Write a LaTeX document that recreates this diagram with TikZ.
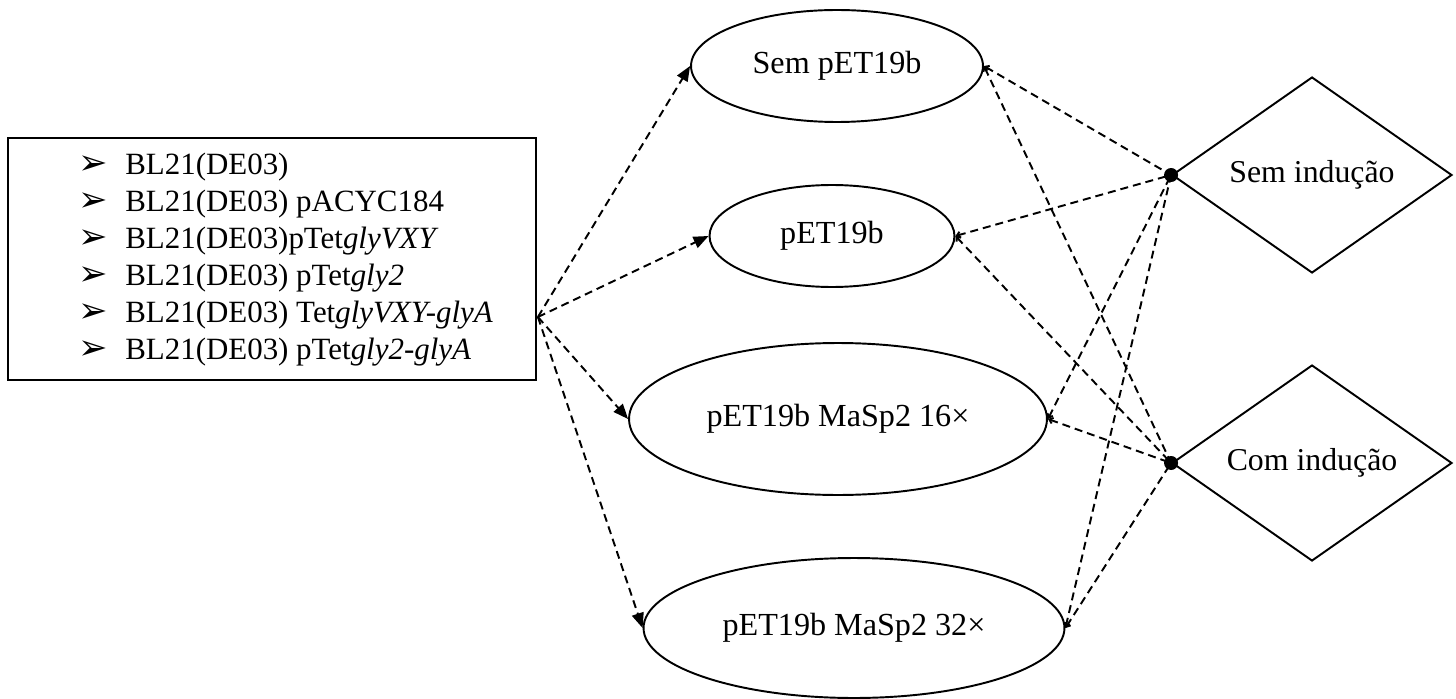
\documentclass[tikz,border=0pt]{standalone}
\usepackage{fontspec}
\setmainfont{Liberation Serif}
\newfontfamily\symfont{DejaVu Sans}
\usepackage{tikz}
\usetikzlibrary{shapes.geometric, arrows.meta, positioning, calc}

\newcommand{\itembul}{\makebox[0.94cm][l]{\symfont\fontsize{20}{20}\selectfont ➢}}

\begin{document}
\begin{tikzpicture}[
    x=0.02cm, y=-0.02cm,
    font=\fontsize{17.6}{21}\selectfont,
    >=Triangle,
    listbox/.style={draw, line width=1.1pt, minimum width=10.56cm, minimum height=4.84cm, inner sep=0pt},
    plasmid/.style={draw, ellipse, line width=1.1pt, inner sep=0pt, font=\fontsize{18.3}{22}\selectfont},
    cond/.style={draw, diamond, aspect=1.43, line width=1.1pt, inner sep=0pt, minimum width=5.6cm, minimum height=3.92cm, font=\fontsize{18.1}{22}\selectfont},
    dot/.style={circle, fill=black, inner sep=0pt, minimum size=0.28cm},
    link/.style={line width=1.1pt, dash pattern=on 0.16cm off 0.1cm},
]
\useasboundingbox (0,0) rectangle (1456,699);

% ── Strain list ──
\node[listbox] (box) at (272,259) {};
\node[anchor=west, align=left, inner sep=0pt] (items) at (78,259.5)
  {\itembul BL21(DE03)\\
   \itembul BL21(DE03) pACYC184\\
   \itembul BL21(DE03)pTet\textit{glyVXY}\\
   \itembul BL21(DE03) pTet\textit{gly2}\\
   \itembul BL21(DE03) Tet\textit{glyVXY-glyA}\\
   \itembul BL21(DE03) pTet\textit{gly2-glyA}};
\coordinate (src) at ($(box.east)+(1,58)$);

% ── Plasmids ──
\node[plasmid, minimum width=5.84cm, minimum height=2.24cm] (semp) at (837,66) {Sem pET19b};
\node[plasmid, minimum width=4.9cm, minimum height=2.04cm] (pet) at (832,236) {pET19b};
\node[plasmid, minimum width=8.36cm, minimum height=3.04cm] (m16) at (838,419) {pET19b MaSp2 16×};
\node[plasmid, minimum width=8.42cm, minimum height=2.8cm] (m32) at (854,628) {pET19b MaSp2 32×};

% ── Induction ──
\node[cond] (semind) at (1312,175) {Sem indução};
\node[cond] (comind) at (1312,463) {Com indução};
\node[dot] (dsem) at (semind.west) {};
\node[dot] (dcom) at (comind.west) {};

% ── Arrows ──
\foreach \p in {semp, pet, m16, m32}
  \draw[link, -{Triangle[length=0.3cm, width=0.24cm]}] (src) -- (\p.west);
\foreach \p in {semp, pet, m16, m32} {
  \draw[link, {Straight Barb[length=0.07cm, width=0.12cm]}-] (\p.east) -- (dsem.center);
  \draw[link, {Straight Barb[length=0.07cm, width=0.12cm]}-] (\p.east) -- (dcom.center);
}
\end{tikzpicture}
\end{document}
